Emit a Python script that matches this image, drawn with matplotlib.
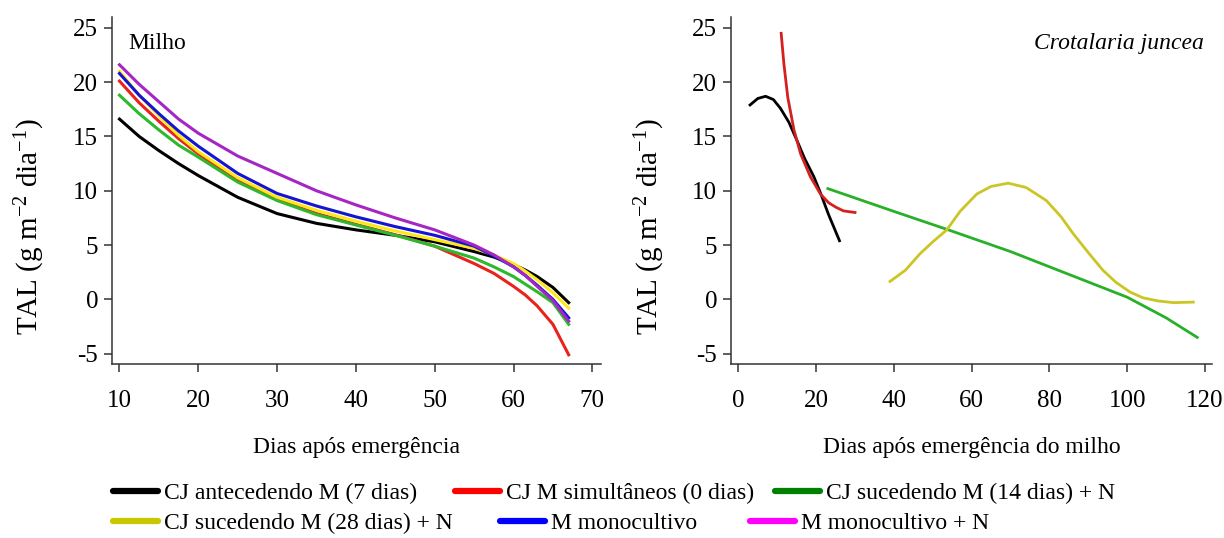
import matplotlib
matplotlib.use("Agg")
import matplotlib.pyplot as plt
from matplotlib.lines import Line2D

plt.rcParams["font.family"] = ["Liberation Serif", "DejaVu Serif"]
plt.rcParams["mathtext.fontset"] = "custom"
plt.rcParams["mathtext.rm"] = "Liberation Serif"
plt.rcParams["mathtext.it"] = "Liberation Serif:italic"
plt.rcParams["axes.unicode_minus"] = False

# --- Milho (painel esquerdo) ---
dias_milho = [10, 12.5, 15, 17.5, 20, 25, 30, 35, 40, 45, 50, 55, 57.5, 60, 61.5, 63, 65, 67]
milho_cj_ant7 = [16.6, 15.0, 13.7, 12.5, 11.4, 9.4, 7.9, 7.0, 6.4, 5.9, 5.3, 4.4, 3.9, 3.2, 2.7, 2.1, 1.1, -0.3]
milho_cj_sim0 = [20.1, 18.1, 16.4, 14.8, 13.4, 11.0, 9.2, 7.9, 6.9, 5.95, 4.9, 3.3, 2.4, 1.2, 0.4, -0.6, -2.3, -5.1]
milho_cj_suc14n = [18.8, 17.1, 15.6, 14.2, 13.1, 10.8, 9.1, 7.8, 6.85, 5.9, 4.9, 3.8, 3.0, 2.1, 1.4, 0.7, -0.3, -2.3]
milho_cj_suc28n = [21.0, 18.8, 16.9, 15.1, 13.6, 11.2, 9.4, 8.2, 7.2, 6.3, 5.5, 4.7, 4.1, 3.3, 2.6, 1.8, 0.6, -0.8]
milho_mono = [20.8, 18.8, 17.1, 15.5, 14.1, 11.6, 9.75, 8.6, 7.6, 6.7, 5.9, 4.9, 4.0, 3.0, 2.2, 1.3, 0.0, -1.7]
milho_mono_n = [21.6, 19.8, 18.2, 16.6, 15.3, 13.2, 11.6, 10.0, 8.7, 7.5, 6.4, 5.0, 4.1, 3.0, 2.2, 1.2, -0.1, -2.0]

# --- Crotalaria juncea (painel direito) ---
cj_ant7_x = [3, 5, 7, 9, 10.8, 13, 15.1, 17, 19.4, 21, 23.2, 26]
cj_ant7_y = [17.9, 18.5, 18.7, 18.4, 17.6, 16.3, 14.6, 13.0, 11.3, 9.9, 7.8, 5.4]
cj_sim0_x = [11, 11.7, 12.7, 14.3, 16, 18.5, 21.1, 23.2, 25, 27, 30]
cj_sim0_y = [24.5, 21.7, 18.6, 15.6, 13.4, 11.3, 9.7, 8.9, 8.5, 8.15, 8.0]
cj_suc14_x = [23, 40, 54, 70, 85, 100, 110, 118]
cj_suc14_y = [10.2, 8.1, 6.4, 4.4, 2.3, 0.2, -1.7, -3.5]
cj_suc28_x = [39, 43, 46.7, 50, 53.6, 57, 61.3, 65, 69.4, 74, 79.2, 83, 86.1, 90,
              93.7, 97, 100.6, 104, 108, 112, 117]
cj_suc28_y = [1.65, 2.7, 4.2, 5.3, 6.4, 8.1, 9.7, 10.4, 10.7, 10.3, 9.1, 7.6, 6.05, 4.3,
              2.7, 1.6, 0.7, 0.15, -0.15, -0.3, -0.25]

legend_labels = [
    "CJ antecedendo M (7 dias)",
    "CJ M simultâneos (0 dias)",
    "CJ sucedendo M (14 dias) + N",
    "CJ sucedendo M (28 dias) + N",
    "M monocultivo",
    "M monocultivo + N",
]
legend_colors = ["#000000", "#ff0000", "#008000", "#c8c800", "#0000ff", "#ff00ff"]

W, H = 1224, 538
fig = plt.figure(figsize=(W / 100, H / 100), dpi=100)


def px_axes(x0, x1, y0, y1):
    return fig.add_axes([x0 / W, 1 - y1 / H, (x1 - x0) / W, (y1 - y0) / H])


ax1 = px_axes(112, 601, 17, 364)
ax2 = px_axes(731, 1212, 17, 364)

lw = 2.2
ax1.plot(dias_milho, milho_cj_ant7, color="#000000", lw=lw)
ax1.plot(dias_milho, milho_cj_sim0, color="#e8231d", lw=lw)
ax1.plot(dias_milho, milho_cj_suc14n, color="#2eb82e", lw=lw)
ax1.plot(dias_milho, milho_cj_suc28n, color="#ffe81a", lw=lw)
ax1.plot(dias_milho, milho_mono, color="#1414d2", lw=lw)
ax1.plot(dias_milho, milho_mono_n, color="#a526c4", lw=lw)

lw2 = 2.0
ax2.plot(cj_ant7_x, cj_ant7_y, color="#000000", lw=lw2)
ax2.plot(cj_sim0_x, cj_sim0_y, color="#d42020", lw=lw2)
ax2.plot(cj_suc14_x, cj_suc14_y, color="#28b028", lw=lw2)
ax2.plot(cj_suc28_x, cj_suc28_y, color="#cbc525", lw=lw2)

ax1.set_xlim(9.05, 71.1)
ax2.set_xlim(-1.9, 121.8)
for ax in (ax1, ax2):
    ax.set_ylim(-5.95, 26)
    ax.set_yticks([-5, 0, 5, 10, 15, 20, 25])
    for s in ("top", "right"):
        ax.spines[s].set_visible(False)
    for s in ("left", "bottom"):
        ax.spines[s].set_color("#333333")
        ax.spines[s].set_linewidth(1.1)
    ax.tick_params(axis="both", direction="out", length=6, width=1.1,
                   color="#333333", labelsize=18)
    ax.tick_params(axis="x", pad=13)
    ax.tick_params(axis="y", pad=4)
    ax.set_ylabel(r"TAL (g m$^{-2}$ dia$^{-1}$)", fontsize=21, va="center")
    ax.yaxis.set_label_coords(-0.168, 0.395)
    ax.set_xlabel(ax.get_xlabel())

ax1.set_xticks([10, 20, 30, 40, 50, 60, 70])
ax2.set_xticks([0, 20, 40, 60, 80, 100, 120])

ax1.set_xlabel("Dias após emergência", fontsize=17, va="center")
ax2.set_xlabel("Dias após emergência do milho", fontsize=17, va="center")
ax1.xaxis.set_label_coords(0.5, -0.24)
ax2.xaxis.set_label_coords(0.5, -0.24)

ax1.text(0.033, 0.925, "Milho", transform=ax1.transAxes, fontsize=17,
         ha="left", va="center")
ax2.text(0.984, 0.925, "Crotalaria juncea", transform=ax2.transAxes, fontsize=17,
         ha="right", va="center", style="italic")

# legenda: duas linhas, entradas posicionadas como no original
legend_pos = [(113, 493.5), (455, 493.5), (775, 493.5),
              (113, 523), (500, 523), (750, 523)]
for lab, col, (x, y) in zip(legend_labels, legend_colors, legend_pos):
    h = Line2D([], [], color=col, lw=4.5, solid_capstyle="round")
    fig.legend([h], [lab], loc="center left", bbox_to_anchor=(x / W, 1 - y / H),
               frameon=False, fontsize=17, handlelength=1.9, handletextpad=0.25,
               borderpad=0, borderaxespad=0)

fig.savefig("out.png", dpi=100)
